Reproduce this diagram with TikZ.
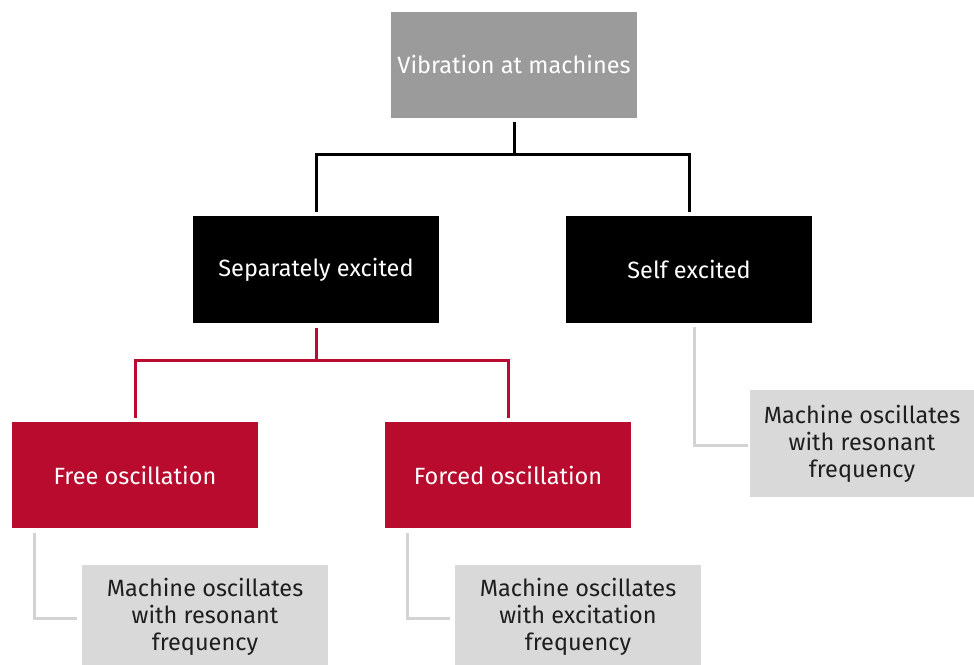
\documentclass[tikz,border=0pt]{standalone}
\usepackage{fontspec}
\setmainfont{Fira Sans}
\definecolor{topgray}{HTML}{9B9B9B}
\definecolor{dbred}{HTML}{B80B2E}
\definecolor{lightbox}{HTML}{D9D9D9}
\definecolor{lightline}{HTML}{D3D3D3}
\definecolor{boxtext}{HTML}{1E1E1E}
\tikzset{
  box/.style={rectangle, inner sep=0pt, minimum width=246pt, minimum height=106pt, align=center, font=\fontsize{23.5}{27}\selectfont, text=white},
  topbox/.style={box, fill=topgray, minimum height=106pt},
  blackbox/.style={box, fill=black, minimum height=107pt},
  redbox/.style={box, fill=dbred},
  notebox/.style={box, fill=lightbox, text=boxtext},
  bl/.style={draw=black, line width=3pt},
  rl/.style={draw=dbred, line width=3pt},
  gl/.style={draw=lightline, line width=3pt},
}
\begin{document}
\begin{tikzpicture}[x=1pt,y=-1pt]
\useasboundingbox[fill=white] (0,0) rectangle (974,664);
\node[topbox] (top) at (514,65) {\raisebox{2pt}{Vibration at machines}};
\node[blackbox] (sep) at (316,269.5) {\raisebox{1pt}{Separately excited}};
\node[blackbox] (self) at (689,269.5) {\raisebox{1pt}{Self excited}};
\node[redbox] (free) at (135,475) {Free oscillation};
\node[redbox] (forced) at (508,475) {Forced oscillation};
\node[notebox, minimum height=104pt] (g1) at (205,617) {Machine oscillates\\with resonant\\frequency};
\node[notebox, minimum height=104pt] (g2) at (578,617) {Machine oscillates\\with excitation\\frequency};
\node[notebox, minimum width=224pt, minimum height=107pt] (g3) at (862,443.5) {Machine oscillates\\with resonant\\frequency};
% black tree
\draw[bl] ([yshift=-4pt]top.south) -- ([yshift=-36pt]top.south) coordinate (j1);
\draw[bl] ([yshift=4pt]sep.north) |- (j1) -| ([yshift=4pt]self.north);
% red tree
\draw[rl] ([yshift=-5pt]sep.south) -- ([yshift=-37pt]sep.south) coordinate (j2);
\draw[rl] ([yshift=4pt]free.north) |- (j2) -| ([yshift=4pt]forced.north);
% gray leaders
\draw[gl] ([shift={(23pt,-5pt)}]free.south west) |- ([shift={(-5pt,-1pt)}]g1.west);
\draw[gl] ([shift={(23pt,-5pt)}]forced.south west) |- ([shift={(-5pt,-1pt)}]g2.west);
\draw[gl] ([shift={(129pt,-4pt)}]self.south west) |- ([shift={(-2pt,-1.5pt)}]g3.west);
\end{tikzpicture}
\end{document}
